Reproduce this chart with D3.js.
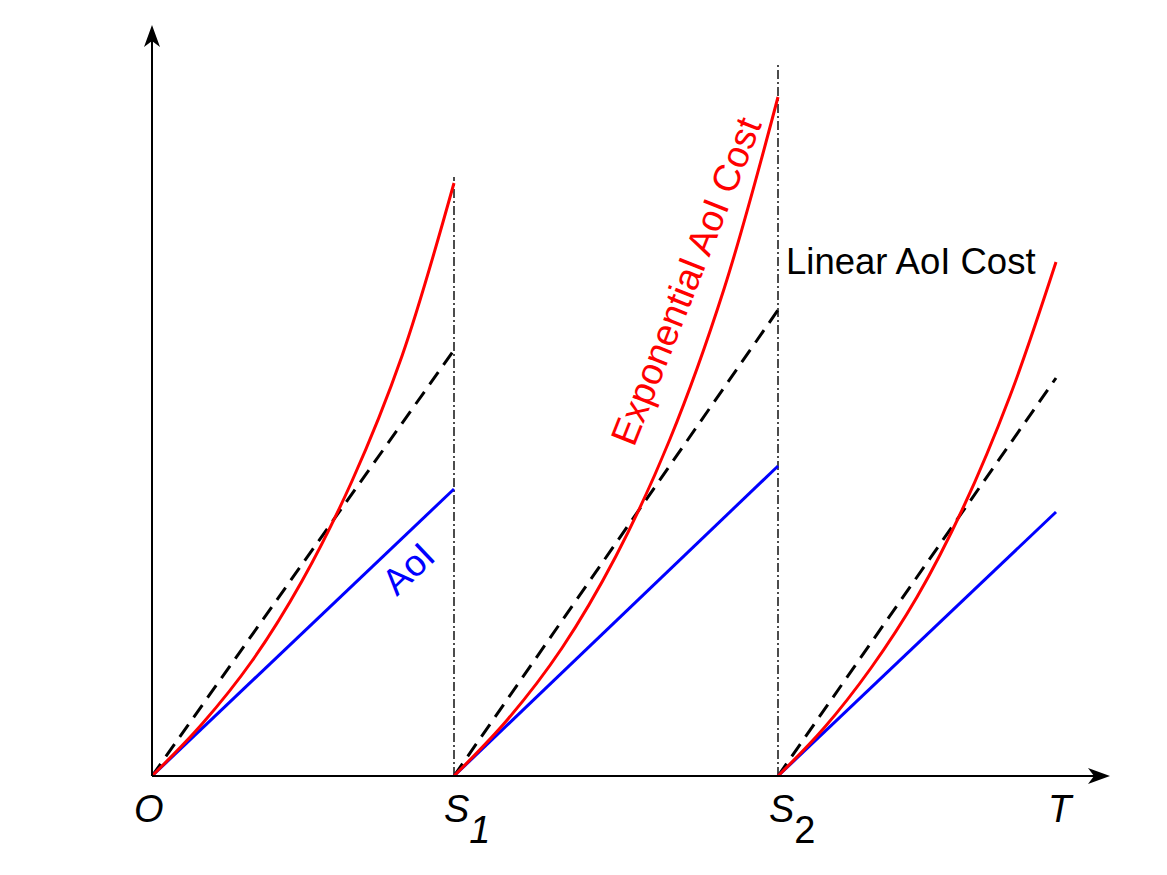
<!DOCTYPE html>
<html>
<head>
<meta charset="utf-8">
<script src="https://cdn.jsdelivr.net/npm/d3@7"></script>
<style>
  body { margin: 0; background: #fff; }
  svg text { font-family: "Liberation Sans", Arial, Helvetica, sans-serif; }
</style>
</head>
<body>
<svg id="chart" width="1167" height="875"></svg>
<script>
// Update instants on the time axis (O, S1, S2, T)
const tickValues = [0, 3.02, 6.26, 9.04];
const tickMain = ["O", "S", "S", "T"];
const tickSub = ["", "1", "2", ""];

// Each update interval: start, end
const segStart = [0, 3.02, 6.26];
const segEnd = [3.02, 6.26, 9.04];

// AoI (linear growth) value reached at the end of each interval
const aoiEnd = [2.87, 3.10, 2.64];
// Linear AoI cost value at the end of each interval
const linearCostEnd = [4.26, 4.66, 3.98];

// Exponential AoI cost, [time since interval start, value]
const expCost1 = [[0, 0], [0.5, 0.52], [1.0, 1.15], [1.5, 1.95], [2.0, 2.95], [2.5, 4.2], [3.02, 5.93]];
const expCost2 = [[0, 0], [0.54, 0.57], [1.08, 1.28], [1.62, 2.2], [2.16, 3.37], [2.70, 4.87], [3.24, 6.79]];
const expCost3 = [[0, 0], [0.46, 0.48], [0.93, 1.08], [1.39, 1.79], [1.85, 2.68], [2.32, 3.8], [2.78, 5.14]];
const expCosts = [expCost1, expCost2, expCost3];

// Heights of the dash-dot markers at S1 and S2
const markerTops = [5.99, 7.11];

const svg = d3.select("#chart");

const x = d3.scaleLinear().domain([0, 9.58]).range([152, 1110]);
const y = d3.scaleLinear().domain([0, 7.51]).range([776, 25]);

// Dash-dot vertical markers
svg.selectAll(".marker")
    .data(markerTops)
    .enter().append("line")
    .attr("x1", (d, i) => x(tickValues[i + 1]))
    .attr("x2", (d, i) => x(tickValues[i + 1]))
    .attr("y1", y(0))
    .attr("y2", d => y(d))
    .attr("stroke", "#000")
    .attr("stroke-width", 1.4)
    .attr("stroke-dasharray", "9,3,2,3");

// Linear AoI cost (dashed)
svg.selectAll(".linear")
    .data(linearCostEnd)
    .enter().append("line")
    .attr("x1", (d, i) => x(segStart[i]))
    .attr("y1", y(0))
    .attr("x2", (d, i) => x(segEnd[i]))
    .attr("y2", d => y(d))
    .attr("stroke", "#000")
    .attr("stroke-width", 3)
    .attr("stroke-dasharray", "15,9");

// AoI (blue)
svg.selectAll(".aoi")
    .data(aoiEnd)
    .enter().append("line")
    .attr("x1", (d, i) => x(segStart[i]))
    .attr("y1", y(0))
    .attr("x2", (d, i) => x(segEnd[i]))
    .attr("y2", d => y(d))
    .attr("stroke", "#0000ff")
    .attr("stroke-width", 3);

// Exponential AoI cost (red curves)
const line = d3.line()
    .x(d => x(d[0]))
    .y(d => y(d[1]))
    .curve(d3.curveCatmullRom);

svg.selectAll(".exp")
    .data(expCosts)
    .enter().append("path")
    .attr("d", (d, i) => line(d.map(p => [segStart[i] + p[0], p[1]])))
    .attr("fill", "none")
    .attr("stroke", "#ff0000")
    .attr("stroke-width", 3);

// Axes with arrow heads
const x0 = x(0), y0 = y(0);
const xEnd = x(9.58), yTop = y(7.51);

svg.append("line")
    .attr("x1", x0).attr("y1", y0)
    .attr("x2", xEnd - 10).attr("y2", y0)
    .attr("stroke", "#000").attr("stroke-width", 2);
svg.append("line")
    .attr("x1", x0).attr("y1", y0)
    .attr("x2", x0).attr("y2", yTop + 10)
    .attr("stroke", "#000").attr("stroke-width", 2);

svg.append("path")
    .attr("d", `M${xEnd},${y0} L${xEnd - 22},${y0 - 8} L${xEnd - 16},${y0} L${xEnd - 22},${y0 + 8} Z`)
    .attr("fill", "#000");
svg.append("path")
    .attr("d", `M${x0},${yTop} L${x0 - 8},${yTop + 22} L${x0},${yTop + 16} L${x0 + 8},${yTop + 22} Z`)
    .attr("fill", "#000");

// Tick labels under the time axis
const tickOffsets = [-18, -10, -9, -8];
const labels = svg.selectAll(".tick-label")
    .data(tickValues)
    .enter().append("text")
    .attr("x", (d, i) => x(d) + tickOffsets[i])
    .attr("y", 822)
    .style("font-size", "38px")
    .style("font-style", "italic")
    .style("fill", "#000");

labels.append("tspan").text((d, i) => tickMain[i]);
labels.append("tspan")
    .attr("dx", 0)
    .attr("dy", 21)
    .style("font-style", (d, i) => i === 2 ? "normal" : "italic")
    .text((d, i) => tickSub[i]);

// Series labels
svg.append("text")
    .attr("x", 786)
    .attr("y", 274)
    .style("font-size", "36.5px")
    .style("fill", "#000")
    .text("Linear AoI Cost");

svg.append("text")
    .attr("transform", "translate(698,286) rotate(-68.4)")
    .attr("text-anchor", "middle")
    .style("font-size", "37.5px")
    .style("fill", "#ff0000")
    .text("Exponential AoI Cost");

svg.append("text")
    .attr("transform", "translate(417,578) rotate(-43.5)")
    .attr("text-anchor", "middle")
    .style("font-size", "37px")
    .style("fill", "#0000ff")
    .text("AoI");
</script>
</body>
</html>
